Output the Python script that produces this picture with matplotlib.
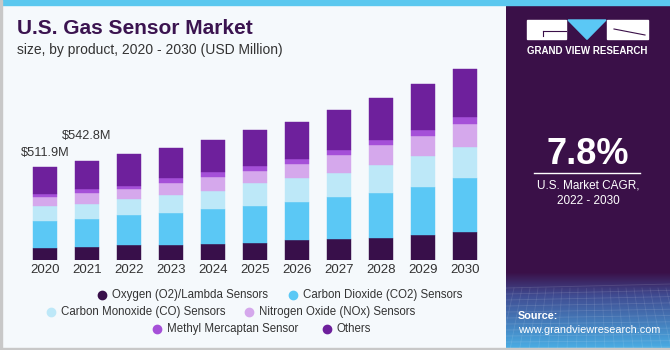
import matplotlib
matplotlib.use("Agg")
import matplotlib.pyplot as plt
import numpy as np
from matplotlib.patches import Rectangle, Polygon

plt.rcParams['font.family'] = ['Liberation Sans', 'DejaVu Sans']

years = ["2020", "2021", "2022", "2023", "2024", "2025", "2026", "2027", "2028", "2029", "2030"]
series_names = ["Oxygen (O2)/Lambda Sensors", "Carbon Dioxide (CO2) Sensors",
                "Carbon Monoxide (CO) Sensors", "Nitrogen Oxide (NOx) Sensors",
                "Methyl Mercaptan Sensor", "Others"]
oxygen = [64, 73, 82, 83, 89, 95, 108, 115, 119, 139, 154]
co2 = [150, 152, 164, 177, 190, 201, 210, 229, 251, 263, 295]
co = [81, 84, 88, 99, 102, 126, 132, 135, 152, 168, 172]
nox = [53, 60, 55, 64, 75, 68, 78, 99, 110, 111, 125]
methyl = [15, 18, 16, 27, 26, 26, 26, 26, 27, 31, 40]
others = [149, 156, 174, 162, 174, 196, 203, 219, 232, 251, 262]
labels = {0: "$511.9M", 1: "$542.8M"}
colors = ["#380f4a", "#5bc8f5", "#bde8f8", "#d5a8ec", "#a550d8", "#6e209c"]

W, H = 670, 350
fig = plt.figure(figsize=(6.7, 3.5), dpi=100)
fig.patch.set_facecolor("#f5f9fc")

def fx(px):
    return px / W

def fy(py):
    return 1 - py / H

# background decorations
fig.patches.append(Rectangle((0, fy(5)), 1, 5 / H, transform=fig.transFigure, color="#5bc8ef", zorder=0))
fig.patches.append(Rectangle((0, 0), fx(1.5), 1, transform=fig.transFigure, color="#c8c8c8", zorder=0))
fig.patches.append(Rectangle((0, 0), 1, 2 / H, transform=fig.transFigure, color="#c8c8c8", zorder=0))

# main chart
ax = fig.add_axes([fx(15.4), fy(260), fx(494.2) - fx(15.4), (260 - 60) / H])
ax.set_facecolor("none")
x = np.arange(len(years))
series = [oxygen, co2, co, nox, methyl, others]
bottom = np.zeros(len(years))
for vals, c in zip(series, colors):
    ax.bar(x, vals, bottom=bottom, width=0.58, color=c, edgecolor=c, linewidth=0.3, zorder=2)
    bottom += np.array(vals)
label_offsets = {0: 14, 1: 25}
for i, t in labels.items():
    ax.annotate(t, (x[i], bottom[i]), xytext=(0, label_offsets[i]), textcoords="offset pixels",
                ha="center", va="center", fontsize=9.2, color="#333333")
ax.set_xlim(-0.7, 10.7)
ax.set_ylim(0, 1097)
ax.set_xticks(x)
ax.set_xticklabels(years, fontsize=9.5, color="#333333")
ax.tick_params(axis="x", length=0, pad=3)
ax.set_yticks([])
for s in ax.spines.values():
    s.set_visible(False)

# titles
fig.text(fx(17), fy(28), "U.S. Gas Sensor Market", fontsize=15, fontweight="heavy",
         color="#3b1450", va="center", ha="left")
fig.text(fx(17), fy(50), "size, by product, 2020 - 2030 (USD Million)", fontsize=10,
         color="#333333", va="center", ha="left")

# legend (manual, centred rows)
rows = [
    [(101.7, 0), (292.7, 1)],
    [(51, 2), (249.3, 3)],
    [(157.3, 4), (326.7, 5)],
]
row_y = [295, 312.3, 329]
for r, yy in zip(rows, row_y):
    for mx, idx in r:
        fig.add_artist(matplotlib.lines.Line2D([fx(mx)], [fy(yy)], marker="o", markersize=6,
                                               color=colors[idx], transform=fig.transFigure))
        fig.text(fx(mx + 10), fy(yy), series_names[idx], fontsize=8.3, color="#333333",
                 va="center", ha="left")

# right panel
px0 = 506
panel = fig.add_axes([fx(px0), 0, 1 - fx(px0), fy(5)])
panel.set_xlim(0, W - px0)
panel.set_ylim(H, 5)
panel.axis("off")
panel.add_patch(Rectangle((0, 5), W - px0, H - 5, color="#3a1048", zorder=0))
# gradient bottom
grad_top = 272
n = 100
g = np.linspace(0, 1, n)[:, None]
c_top = np.array([0x3a, 0x10, 0x48]) / 255
c_mid = np.array([0x40, 0x4c, 0x92]) / 255
c_bot = np.array([0x4a, 0xb0, 0xe6]) / 255
img = np.zeros((n, 1, 3))
for i in range(n):
    t = g[i, 0]
    if t < 0.3:
        u = t / 0.3
        img[i, 0] = c_top * (1 - u) + c_mid * u
    else:
        u = (t - 0.3) / 0.7
        img[i, 0] = c_mid * (1 - u) + c_bot * u
panel.imshow(img, extent=[0, W - px0, H, grad_top], aspect="auto", zorder=1)
# faint grid lines
for k in range(12):
    yy = 288 + k * 6
    panel.plot([0, W - px0], [yy, yy - 4 + k * 0.3], color="white", alpha=0.12, lw=0.6, zorder=2)
for k in range(-10, 30):
    xx = k * 8
    panel.plot([xx, xx + (k - 10) * 1.5], [288, H], color="white", alpha=0.10, lw=0.6, zorder=2)
panel.set_xlim(0, W - px0)
panel.set_ylim(H, 5)

# logo
ox = -px0
panel.add_patch(Rectangle((527 + ox, 20), 39, 19.3, color="white", zorder=3))
panel.add_patch(Polygon([[568 + ox, 20], [606 + ox, 20], [587 + ox, 39.3]], color="#5bc8f5", zorder=3))
panel.add_patch(Rectangle((607 + ox, 20), 41, 19.3, color="white", zorder=3))
panel.plot([543 + ox, 566 + ox], [31, 31], color="#3a1048", lw=0.8, zorder=4)
panel.plot([543 + ox, 543 + ox], [31, 36], color="#3a1048", lw=0.8, zorder=4)
panel.plot([614 + ox, 645 + ox], [29, 35], color="#3a1048", lw=0.8, zorder=4)
panel.text(587.5 + ox, 51, "GRAND VIEW RESEARCH", color="white", fontsize=7,
           fontweight="bold", ha="center", va="center", zorder=4)

panel.text(588 + ox, 155, "7.8%", color="white", fontsize=26, fontweight="bold",
           ha="center", va="center", zorder=4)
panel.plot([534 + ox, 640 + ox], [173.3, 173.3], color="white", lw=1, zorder=4)
panel.text(588 + ox, 186, "U.S. Market CAGR,", color="white", fontsize=8.5,
           ha="center", va="center", zorder=4)
panel.text(588 + ox, 201, "2022 - 2030", color="white", fontsize=8.5,
           ha="center", va="center", zorder=4)
panel.text(518 + ox, 316, "Source:", color="white", fontsize=7.8, fontweight="bold",
           ha="left", va="center", zorder=4)
panel.text(518 + ox, 330, "www.grandviewresearch.com", color="white", fontsize=7.8,
           ha="left", va="center", zorder=4)

fig.savefig("out.png", dpi=100, facecolor=fig.get_facecolor())
